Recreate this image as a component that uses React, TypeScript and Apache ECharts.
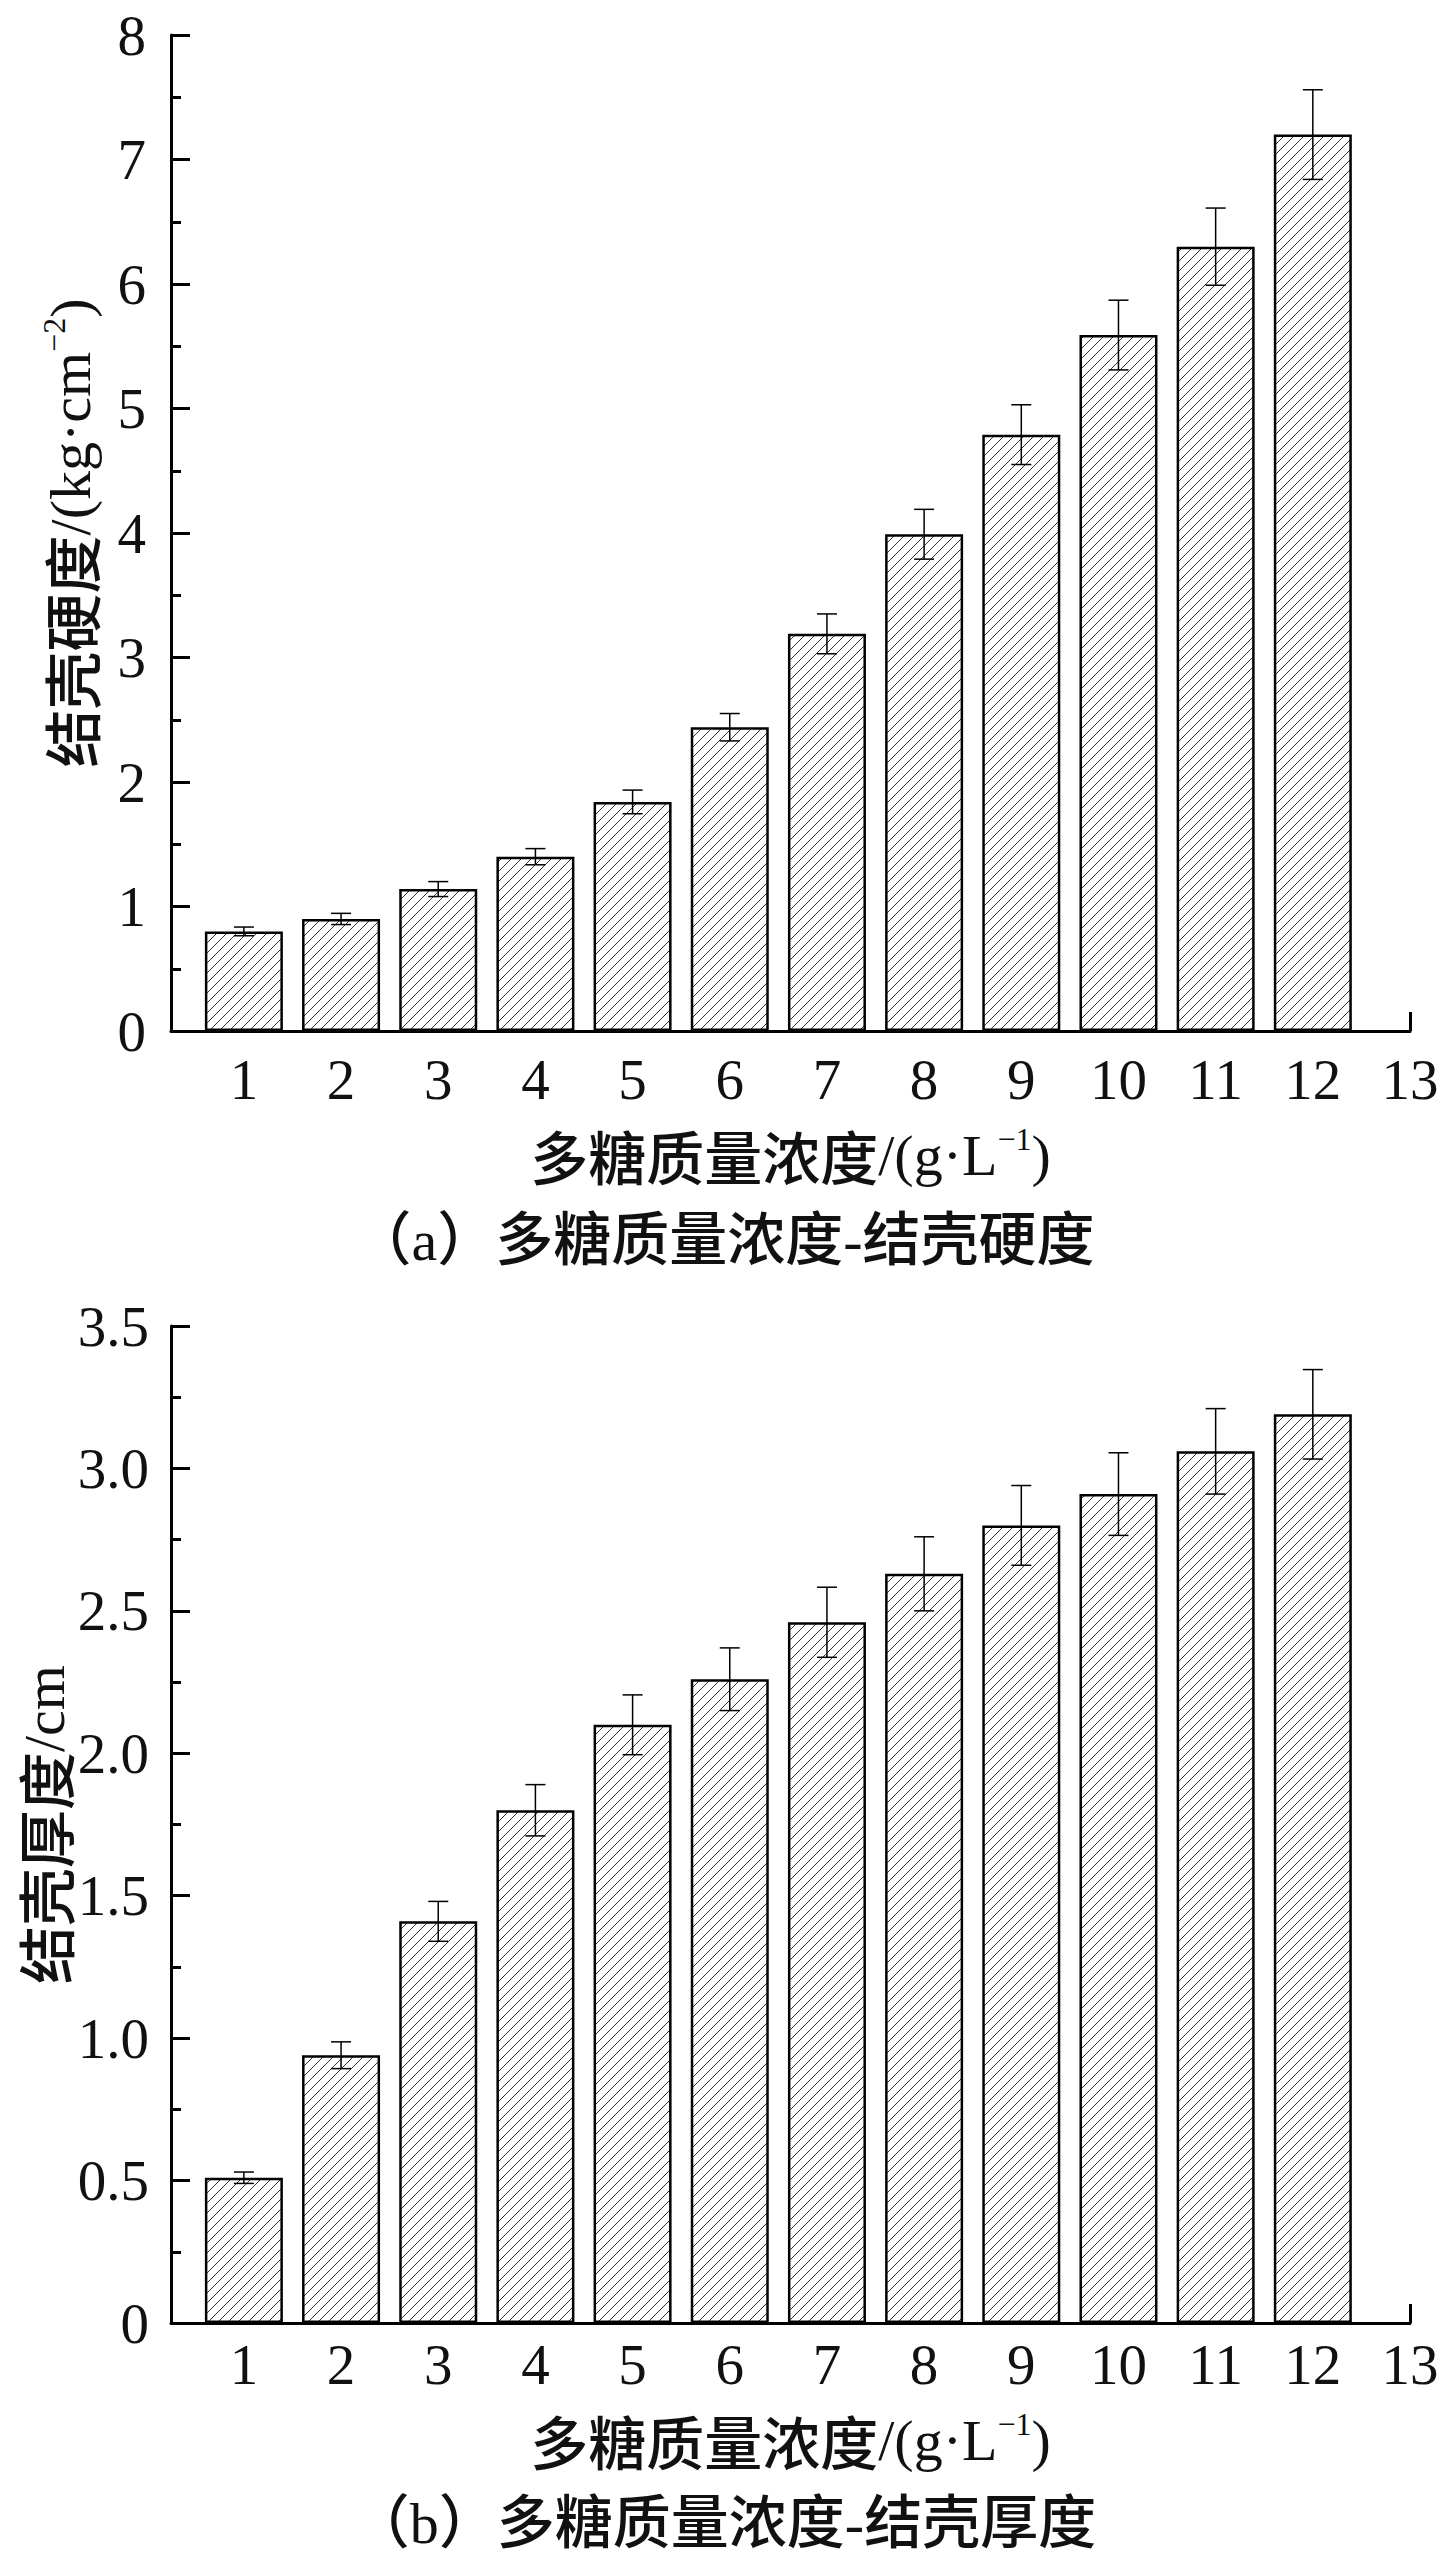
import React, { useEffect, useRef } from "react";
import * as echarts from "echarts";

// ---- data ----
const concentrations = [1, 2, 3, 4, 5, 6, 7, 8, 9, 10, 11, 12];
const xTickValues = [1, 2, 3, 4, 5, 6, 7, 8, 9, 10, 11, 12, 13];
const hardness = [0.8, 0.9, 1.14, 1.4, 1.84, 2.44, 3.19, 3.99, 4.79, 5.59, 6.3, 7.2];
const hardnessErr = [0.035, 0.045, 0.06, 0.065, 0.095, 0.11, 0.16, 0.2, 0.24, 0.28, 0.31, 0.36];
const thickness = [0.51, 0.94, 1.41, 1.8, 2.1, 2.26, 2.46, 2.63, 2.8, 2.91, 3.06, 3.19];
const thicknessErr = [0.02, 0.047, 0.07, 0.09, 0.105, 0.11, 0.123, 0.13, 0.14, 0.145, 0.15, 0.157];
const captionA = "（a）多糖质量浓度-结壳硬度";
const captionB = "（b）多糖质量浓度-结壳厚度";

const INK = "#111";
const SERIF = "'Liberation Serif', 'Times New Roman', serif";
const MIXED = "'Liberation Serif', 'Noto Sans CJK SC', serif";
const CJK = "'Noto Sans CJK SC', sans-serif";

function makeHatch(): HTMLCanvasElement {
  const c = document.createElement("canvas");
  c.width = 10;
  c.height = 10;
  const g = c.getContext("2d")!;
  g.fillStyle = "#fff";
  g.fillRect(0, 0, 10, 10);
  g.strokeStyle = "#333";
  g.lineWidth = 1;
  g.beginPath();
  g.moveTo(-1, 11);
  g.lineTo(11, -1);
  g.moveTo(-1, 1);
  g.lineTo(1, -1);
  g.moveTo(9, 11);
  g.lineTo(11, 9);
  g.stroke();
  return c;
}

const nameRich = {
  c: { fontSize: 58, fontFamily: CJK, fontWeight: 500, color: INK, lineHeight: 64 },
  l: { fontSize: 58, fontFamily: SERIF, color: INK, lineHeight: 64 },
  s: { fontSize: 32, fontFamily: SERIF, color: INK, lineHeight: 34, verticalAlign: "top" },
};

function xAxisOpt(gridIndex: number, labelMargin: number, nameGap: number) {
  return {
    type: "value",
    gridIndex,
    min: 0.25,
    max: 13,
    name: "{c|多糖质量浓度}{l|/(g·L}{s|−1}{l|)}",
    nameLocation: "middle",
    nameGap,
    nameMoveOverlap: false,
    nameTextStyle: { rich: nameRich },
    axisLine: { show: true, onZero: false, lineStyle: { color: "#000", width: 3 } },
    axisTick: {
      show: true,
      inside: true,
      length: 19,
      customValues: xTickValues,
      lineStyle: { color: "#000", width: 3 },
    },
    axisLabel: {
      show: true,
      customValues: xTickValues,
      margin: labelMargin,
      fontSize: 57,
      fontFamily: SERIF,
      color: INK,
    },
    splitLine: { show: false },
  };
}

function yAxisOpt(
  gridIndex: number,
  max: number,
  interval: number,
  name: string,
  nameGap: number,
  labelMargin: number,
  fmt: (v: number) => string
) {
  return {
    type: "value",
    gridIndex,
    min: 0,
    max,
    interval,
    name,
    nameLocation: "middle",
    nameRotate: 90,
    nameGap,
    nameMoveOverlap: false,
    nameTextStyle: { rich: nameRich },
    axisLine: { show: true, lineStyle: { color: "#000", width: 3 } },
    axisTick: { show: true, inside: true, length: 19, lineStyle: { color: "#000", width: 3 } },
    minorTick: { show: true, splitNumber: 2, length: 10, lineStyle: { color: "#000", width: 3 } },
    axisLabel: {
      margin: labelMargin,
      fontSize: 57,
      fontFamily: SERIF,
      color: INK,
      formatter: fmt,
    },
    splitLine: { show: false },
    minorSplitLine: { show: false },
  };
}

function errorSeries(xi: number, values: number[], errs: number[]) {
  return {
    type: "custom",
    xAxisIndex: xi,
    yAxisIndex: xi,
    silent: true,
    z: 5,
    encode: { x: 0, y: [1, 2] },
    data: concentrations.map((c, i) => [c, values[i] - errs[i], values[i] + errs[i]]),
    renderItem: (_params: any, api: any) => {
      const x = api.value(0);
      const lo = api.coord([x, api.value(1)]);
      const hi = api.coord([x, api.value(2)]);
      const hw = 10;
      const st = { stroke: "#000", lineWidth: 1.5 };
      return {
        type: "group",
        children: [
          { type: "line", shape: { x1: hi[0], y1: hi[1], x2: lo[0], y2: lo[1] }, style: st },
          { type: "line", shape: { x1: hi[0] - hw, y1: hi[1], x2: hi[0] + hw, y2: hi[1] }, style: st },
          { type: "line", shape: { x1: lo[0] - hw, y1: lo[1], x2: lo[0] + hw, y2: lo[1] }, style: st },
        ],
      };
    },
  };
}

function barSeries(xi: number, values: number[], hatch: HTMLCanvasElement) {
  return {
    type: "bar",
    xAxisIndex: xi,
    yAxisIndex: xi,
    silent: true,
    barWidth: 78,
    data: concentrations.map((c, i) => [c, values[i]]),
    itemStyle: {
      color: { image: hatch, repeat: "repeat", imageWidth: 10, imageHeight: 10 },
      borderColor: "#000",
      borderWidth: 2.5,
    },
  };
}

export default function App() {
  const ref = useRef<HTMLDivElement>(null);
  useEffect(() => {
    if (!ref.current) return;
    const chart = echarts.init(ref.current, undefined, { renderer: "svg" });
    const hatch = makeHatch();
    chart.setOption({
      animation: false,
      backgroundColor: "#fff",
      grid: [
        { left: 171, top: 35, width: 1239, height: 996, outerBoundsMode: "none", containLabel: false },
        { left: 171, top: 1326, width: 1239, height: 997, outerBoundsMode: "none", containLabel: false },
      ],
      xAxis: [xAxisOpt(0, 20, 92), xAxisOpt(1, 13, 85)],
      yAxis: [
        yAxisOpt(0, 8, 1, "{c|结壳硬度}{l|/(kg·cm}{s|−2}{l|)}", 69, 25, (v: number) => String(v)),
        yAxisOpt(1, 3.5, 0.5, "{c|结壳厚度}{l|/cm}", 95, 22, (v: number) =>
          v === 0 ? "0" : v.toFixed(1)
        ),
      ],
      series: [
        barSeries(0, hardness, hatch),
        errorSeries(0, hardness, hardnessErr),
        barSeries(1, thickness, hatch),
        errorSeries(1, thickness, thicknessErr),
      ],
      graphic: [
        {
          type: "text",
          x: 724,
          y: 1240,
          style: {
            text: captionA,
            fontSize: 58,
            fontFamily: MIXED,
            fontWeight: 500,
            fill: INK,
            align: "center",
            verticalAlign: "middle",
          },
        },
        {
          type: "text",
          x: 724,
          y: 2523,
          style: {
            text: captionB,
            fontSize: 58,
            fontFamily: MIXED,
            fontWeight: 500,
            fill: INK,
            align: "center",
            verticalAlign: "middle",
          },
        },
      ],
    });
    return () => chart.dispose();
  }, []);
  return (
    <div
      ref={ref}
      style={{ position: "absolute", left: 0, top: 0, width: 1448, height: 2561, background: "#fff" }}
    />
  );
}
